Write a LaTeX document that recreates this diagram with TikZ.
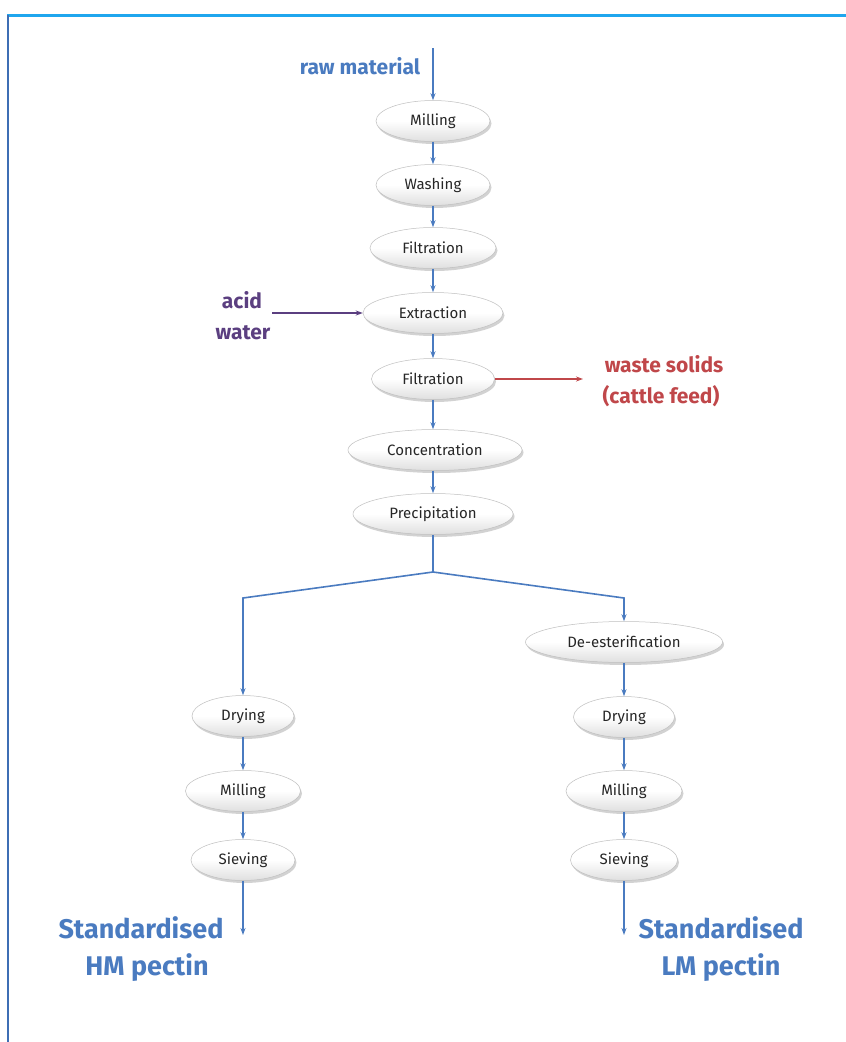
\documentclass[tikz,border=0pt]{standalone}
\usepackage{fontspec}
\setmainfont{Fira Sans}
\usetikzlibrary{arrows.meta,shadows,shapes.geometric}
\definecolor{flow}{HTML}{4A7BC0}
\definecolor{acidc}{HTML}{5B3F80}
\definecolor{waste}{HTML}{C0474A}
\definecolor{topline}{HTML}{1FA6EE}
\definecolor{leftline}{HTML}{3E6EB4}
\tikzset{
  stepnode/.style={ellipse, draw=gray!50, line width=0.5pt, minimum height=41pt,
    inner sep=0pt, top color=white, bottom color=gray!25, middle color=white,
    drop shadow={opacity=0.35, shadow xshift=1.5pt, shadow yshift=-2.5pt, fill=gray},
    font=\fontsize{15}{17}\selectfont, text=black!85},
  flowarrow/.style={draw=flow, line width=1.6pt, -{Stealth[length=7pt,width=5pt]}},
  flowline/.style={draw=flow, line width=1.6pt},
  bluelabel/.style={text=flow, font=\bfseries\fontsize{21}{24}\selectfont},
  biglabel/.style={text=flow, font=\bfseries\fontsize{27}{32}\selectfont, align=center},
  acidlabel/.style={text=acidc, font=\bfseries\fontsize{21}{24}\selectfont},
  wastelabel/.style={text=waste, font=\bfseries\fontsize{21}{24}\selectfont},
}
\begin{document}
\begin{tikzpicture}[x=1pt,y=-1pt]
\useasboundingbox (0,0) rectangle (846,1042);
\fill[white] (0,0) rectangle (846,1042);
% frame
\draw[topline, line width=3pt] (7,15) -- (846,15);
\draw[leftline, line width=2pt] (8,15) -- (8,1042);

% nodes
\node[stepnode, minimum width=114pt] (mill1) at (433,121) {Milling};
\node[stepnode, minimum width=114pt] (wash) at (433,185) {Washing};
\node[stepnode, minimum width=126pt] (filt1) at (433,248) {Filtration};
\node[stepnode, minimum width=140pt] (extr) at (433,313) {Extraction};
\node[stepnode, minimum width=123pt] (filt2) at (433,379) {Filtration};
\node[stepnode, minimum width=174pt] (conc) at (435,450) {Concentration};
\node[stepnode, minimum width=160pt] (prec) at (433,514) {Precipitation};
\node[stepnode, minimum width=197pt] (deest) at (624,642) {De-esterification};
\node[stepnode, minimum width=102pt] (dryL) at (243,716) {Drying};
\node[stepnode, minimum width=115pt] (millL) at (243,791) {Milling};
\node[stepnode, minimum width=104pt] (sievL) at (243,860) {Sieving};
\node[stepnode, minimum width=101pt] (dryR) at (624,717) {Drying};
\node[stepnode, minimum width=116pt] (millR) at (624,791) {Milling};
\node[stepnode, minimum width=107pt] (sievR) at (624,860) {Sieving};

% labels
\node[bluelabel] (raw) at (360,66) {raw material};
\node[acidlabel] (acid) at (242,300) {acid};
\node[acidlabel] (water) at (243,333) {water};
\node[wastelabel] (ws) at (664,364) {waste solids};
\node[wastelabel] (cf) at (661,396) {(cattle feed)};
\node[biglabel] (stdL) at (141,928) {Standardised};
\node[biglabel] (hm) at (147,968) {HM pectin};
\node[biglabel] (stdR) at (721,928) {Standardised};
\node[biglabel] (lm) at (721,968) {LM pectin};

% coordinates
\coordinate (rawtop) at (433,48);
\coordinate (acidstart) at (272,313);
\coordinate (wasteend) at (583,379);
\coordinate (split) at (433,572);
\coordinate (cornerL) at (243,598);
\coordinate (cornerR) at (624,598);
\coordinate (endL) at (243,935);
\coordinate (endR) at (624,935);

% connectors
\draw[flowarrow] (rawtop) -- (mill1.north);
\draw[flowarrow] (mill1) -- (wash);
\draw[flowarrow] (wash) -- (filt1);
\draw[flowarrow] (filt1) -- (extr);
\draw[flowarrow] (extr) -- (filt2);
\draw[flowarrow] (filt2.south) -- (filt2.south |- conc.north);
\draw[flowarrow] (prec.north |- conc.south) -- (prec.north);
\draw[draw=acidc, line width=1.6pt, -{Stealth[length=7pt,width=5pt]}] (acidstart) -- (extr.west);
\draw[draw=waste, line width=1.6pt, -{Stealth[length=7pt,width=5pt]}] (filt2.east) -- (wasteend);
\draw[flowline] (prec.south) -- (split);
\draw[flowarrow] (split) -- (cornerL) -- (dryL.north);
\draw[flowarrow] (split) -- (cornerR) -- (deest.north);
\draw[flowarrow] (deest) -- (dryR);
\draw[flowarrow] (dryR) -- (millR);
\draw[flowarrow] (millR) -- (sievR);
\draw[flowarrow] (dryL) -- (millL);
\draw[flowarrow] (millL) -- (sievL);
\draw[flowarrow] (sievL) -- (endL);
\draw[flowarrow] (sievR) -- (endR);
\end{tikzpicture}
\end{document}
